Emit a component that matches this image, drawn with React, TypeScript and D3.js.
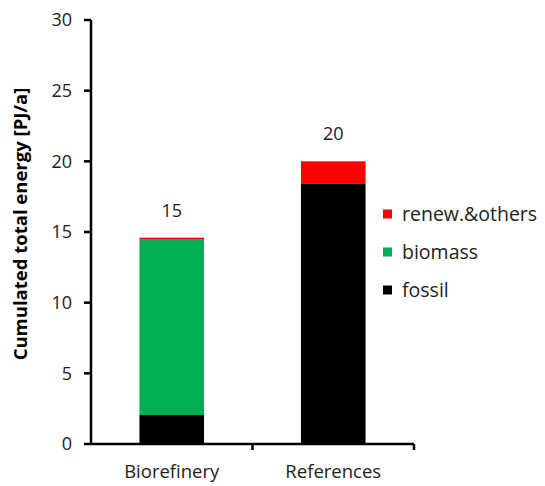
import React from "react";
import * as d3 from "d3";

const categories = ["Biorefinery", "References"];
const seriesNames = ["fossil", "biomass", "renew.&others"];
const fossil = [2.05, 18.4];
const biomass = [12.45, 0];
const renew = [0.1, 1.6];
const totalLabels = ["15", "20"];
const yTicks = [0, 5, 10, 15, 20, 25, 30];
const colors = ["#000000", "#00B050", "#FF0000"];
const legendOrder = ["renew.&others", "biomass", "fossil"];

export default function App() {
  const W = 545, H = 486;
  const x0 = 91, x1 = 414, yTop = 20, yBot = 444;
  const y = d3.scaleLinear().domain([0, 30]).range([yBot, yTop]);
  const x = d3.scaleBand().domain(categories).range([x0, x1]).paddingInner(0.6).paddingOuter(0.3);
  const xb = d3.scaleBand().domain(categories).range([x0, x1]);
  const data = categories.map((c, i) => ({ cat: c, fossil: fossil[i], biomass: biomass[i], "renew.&others": renew[i] }));
  const stack = d3.stack<any>().keys(seriesNames)(data);
  const color = d3.scaleOrdinal<string, string>().domain(seriesNames).range(colors);
  const font = "'Open Sans', 'Noto Sans', sans-serif";
  return (
    <svg width={W} height={H} style={{ position: "absolute", left: 0, top: 0 }} fontFamily={font}>
      <rect width={W} height={H} fill="#fff" />
      {stack.map((s) => (
        <g key={s.key} fill={color(s.key)}>
          {s.map((d, i) => (
            <rect key={i} x={x(categories[i])} width={x.bandwidth()} y={y(d[1])} height={Math.max(0, y(d[0]) - y(d[1]))} />
          ))}
        </g>
      ))}
      {categories.map((c, i) => (
        <text key={c} x={(x(c) as number) + x.bandwidth() / 2} y={y(fossil[i] + biomass[i] + renew[i]) - 21} textAnchor="middle" fontSize={18} fill="#222">
          {totalLabels[i]}
        </text>
      ))}
      {/* y axis */}
      <line x1={x0} x2={x0} y1={yTop} y2={yBot + 1} stroke="#000" strokeWidth={2.5} />
      {yTicks.map((t) => (
        <g key={t}>
          <line x1={x0 - 7} x2={x0} y1={y(t)} y2={y(t)} stroke="#000" strokeWidth={2.5} />
          <text x={x0 - 19} y={y(t)} dy="0.36em" textAnchor="end" fontSize={18} fill="#222">{t}</text>
        </g>
      ))}
      {/* x axis */}
      <line x1={x0} x2={x1} y1={yBot} y2={yBot} stroke="#000" strokeWidth={2.5} />
      {[...categories.map((c) => xb(c) as number), x1].slice(1).map((px, i) => (
        <line key={i} x1={px} x2={px} y1={yBot} y2={yBot + 6} stroke="#000" strokeWidth={2.5} />
      ))}
      {categories.map((c) => (
        <text key={c} x={(xb(c) as number) + xb.bandwidth() / 2} y={472} dy="0.35em" textAnchor="middle" fontSize={18.5} fill="#222">{c}</text>
      ))}
      <text transform={`translate(27,${224}) rotate(-90)`} textAnchor="middle" fontSize={18.5} fontWeight="bold" fill="#000">
        Cumulated total energy [PJ/a]
      </text>
      {legendOrder.map((k, i) => (
        <g key={k} transform={`translate(383,${214 + i * 38})`}>
          <rect x={0} y={-4.5} width={9} height={9} fill={color(k)} />
          <text x={19} y={0} dy="0.36em" fontSize={19.5} fill="#222">{k}</text>
        </g>
      ))}
    </svg>
  );
}
